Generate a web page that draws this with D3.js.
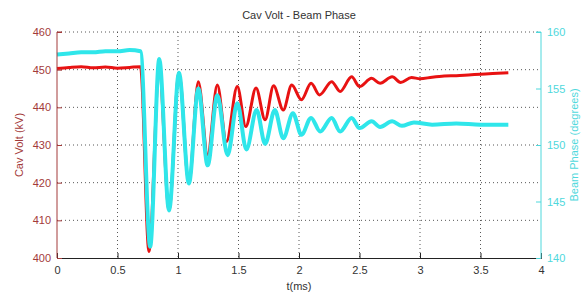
<!DOCTYPE html>
<html>
<head>
<meta charset="utf-8">
<script src="https://cdn.jsdelivr.net/npm/d3@7"></script>
<style>
  body { margin: 0; background: #fff; }
  text { font-family: "Liberation Sans", Arial, sans-serif; }
</style>
</head>
<body>
<div id="chart"></div>
<script>
// -- data --
const voltTime = [0, 0.1, 0.2, 0.3, 0.4, 0.5, 0.6, 0.69, 0.76, 0.845, 0.926, 1.008, 1.09, 1.168, 1.245, 1.325, 1.40, 1.49, 1.56, 1.645, 1.72, 1.79, 1.87, 1.94, 2.02, 2.10, 2.17, 2.27, 2.34, 2.435, 2.50, 2.60, 2.67, 2.77, 2.84, 2.93, 3.0, 3.1, 3.2, 3.3, 3.4, 3.5, 3.6, 3.73];
const voltValues = [450.3, 450.6, 450.8, 450.5, 450.7, 450.4, 450.6, 450.8, 401.7, 449.8, 412.8, 449.1, 419.9, 446.8, 427.4, 445.9, 430.9, 445.5, 434.9, 445.1, 436.7, 445.7, 439.3, 445.9, 442.0, 446.4, 443.3, 446.8, 444.2, 448.1, 445.5, 447.7, 446.4, 448.1, 446.6, 447.9, 447.6, 448.0, 448.3, 448.4, 448.6, 448.8, 449.0, 449.2];

const phaseTime = [0, 0.1, 0.2, 0.3, 0.4, 0.5, 0.6, 0.69, 0.77, 0.845, 0.926, 1.008, 1.09, 1.168, 1.245, 1.325, 1.41, 1.49, 1.565, 1.65, 1.72, 1.80, 1.87, 1.95, 2.02, 2.10, 2.175, 2.27, 2.34, 2.435, 2.50, 2.60, 2.67, 2.77, 2.85, 2.95, 3.1, 3.3, 3.5, 3.73];
const phaseValues = [158.0, 158.1, 158.2, 158.2, 158.3, 158.3, 158.4, 158.3, 141.0, 157.6, 144.2, 156.4, 146.6, 155.0, 148.2, 154.4, 149.1, 153.7, 149.6, 153.1, 150.1, 153.1, 150.6, 152.8, 150.9, 152.4, 151.2, 152.4, 151.2, 152.4, 151.5, 152.1, 151.6, 152.1, 151.7, 152.0, 151.8, 151.9, 151.8, 151.8];

const xTicks = [0, 0.5, 1, 1.5, 2, 2.5, 3, 3.5, 4];
const voltTicks = [400, 410, 420, 430, 440, 450, 460];
const phaseTicks = [140, 145, 150, 155, 160];

const W = 587, H = 294;
const margin = {top: 32, right: 46, bottom: 36, left: 57};
const red = "#e81212", cyan = "#2fe6ea";
const redAxis = "#a33a3a", cyanAxis = "#4fd8dc";

const svg = d3.select("#chart").append("svg")
  .attr("width", W).attr("height", H);

const x = d3.scaleLinear().domain([0, 4]).range([margin.left, W - margin.right]);
const yV = d3.scaleLinear().domain([400, 460]).range([H - margin.bottom, margin.top]);
const yP = d3.scaleLinear().domain([140, 160]).range([H - margin.bottom, margin.top]);

// grid (dotted)
const grid = svg.append("g").attr("stroke", "#444").attr("stroke-width", 0.9).attr("stroke-dasharray", "1,3");
grid.selectAll(".gx").data(xTicks.slice(1, -1)).join("line")
  .attr("x1", d => x(d)).attr("x2", d => x(d))
  .attr("y1", yV(460)).attr("y2", yV(400));
grid.selectAll(".gy").data(voltTicks.slice(1)).join("line")
  .attr("x1", x(0)).attr("x2", x(4))
  .attr("y1", d => yV(d)).attr("y2", d => yV(d));

// traces
const voltData = voltTime.map((t, i) => [t, voltValues[i]]);
const phaseData = phaseTime.map((t, i) => [t, phaseValues[i]]);

svg.append("path")
  .datum(voltData)
  .attr("fill", "none").attr("stroke", red).attr("stroke-width", 3)
  .attr("stroke-linejoin", "round")
  .attr("d", d3.line().x(d => x(d[0])).y(d => yV(d[1])).curve(d3.curveMonotoneX));

svg.append("path")
  .datum(phaseData)
  .attr("fill", "none").attr("stroke", cyan).attr("stroke-width", 4)
  .attr("stroke-linejoin", "round")
  .attr("d", d3.line().x(d => x(d[0])).y(d => yP(d[1])).curve(d3.curveMonotoneX));

// x axis
const xAxis = svg.append("g")
  .attr("transform", `translate(0,${yV(400)})`)
  .call(d3.axisBottom(x).tickValues(xTicks).tickSize(-5).tickPadding(8).tickFormat(d3.format("")));
xAxis.select(".domain").attr("stroke", "#222");
xAxis.selectAll(".tick line").attr("stroke", "#222");
xAxis.selectAll("text").attr("font-size", 11).attr("fill", "#333");

// left axis
const yAxisL = svg.append("g")
  .attr("transform", `translate(${x(0)},0)`)
  .call(d3.axisLeft(yV).tickValues(voltTicks).tickSize(-5).tickPadding(6));
yAxisL.select(".domain").attr("stroke", redAxis).attr("d", `M5,${yV(460)}H0V${yV(400)}`);
yAxisL.selectAll(".tick line").attr("stroke", redAxis);
yAxisL.selectAll("text").attr("font-size", 11).attr("fill", redAxis);

// right axis
const yAxisR = svg.append("g")
  .attr("transform", `translate(${x(4)},0)`)
  .call(d3.axisRight(yP).tickValues(phaseTicks).tickSize(-5).tickPadding(6));
yAxisR.select(".domain").attr("stroke", cyanAxis).attr("d", `M-5,${yP(160)}H0V${yP(140)}`);
yAxisR.selectAll(".tick line").attr("stroke", cyanAxis);
yAxisR.selectAll("text").attr("font-size", 11).attr("fill", cyanAxis);

// titles
svg.append("text")
  .attr("x", (x(0) + x(4)) / 2).attr("y", 19)
  .attr("text-anchor", "middle").attr("font-size", 11).attr("fill", "#333")
  .text("Cav Volt - Beam Phase");

svg.append("text")
  .attr("x", (x(0) + x(4)) / 2).attr("y", 290)
  .attr("text-anchor", "middle").attr("font-size", 11).attr("fill", "#333")
  .text("t(ms)");

svg.append("text")
  .attr("transform", `translate(23,${(yV(400) + yV(460)) / 2}) rotate(-90)`)
  .attr("text-anchor", "middle").attr("font-size", 11).attr("fill", redAxis)
  .text("Cav Volt  (kV)");

svg.append("text")
  .attr("transform", `translate(578,${(yV(400) + yV(460)) / 2}) rotate(-90)`)
  .attr("text-anchor", "middle").attr("font-size", 11).attr("fill", cyanAxis)
  .text("Beam Phase (degrees)");
</script>
</body>
</html>
